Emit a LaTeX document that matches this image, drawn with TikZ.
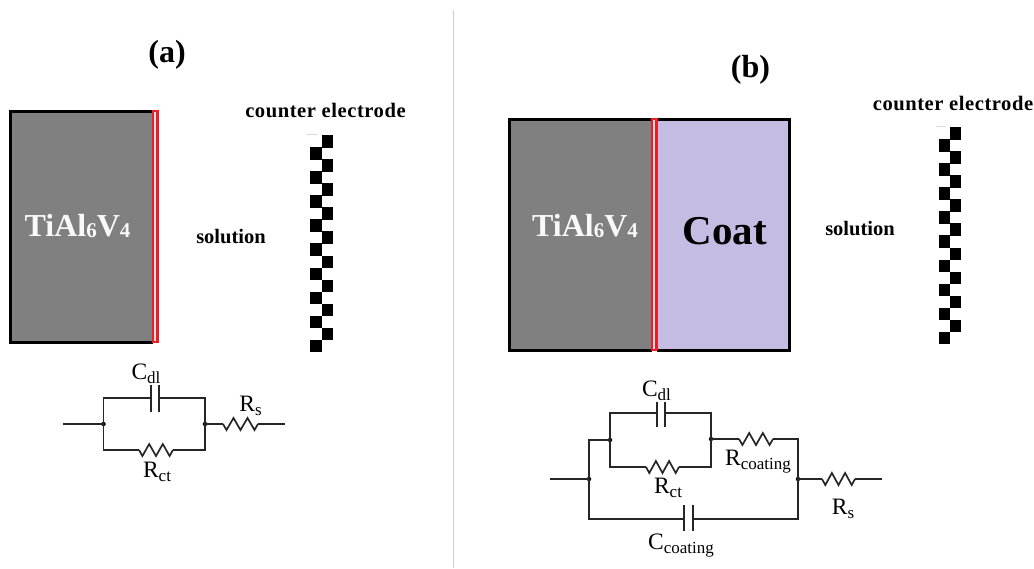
\documentclass[tikz,border=0pt]{standalone}
\usepackage{fontspec}
\setmainfont{Liberation Serif}
\newfontfamily\spaced[LetterSpace=2.6]{Liberation Serif}
\newcommand{\lab}[2]{{\fontsize{23.5}{25}\selectfont #1\raisebox{-4pt}{\fontsize{17}{19}\selectfont #2}}}
\newcommand{\alloytext}{TiAl\raisebox{-1pt}{\fontsize{21}{23}\selectfont 6}V\raisebox{-1pt}{\fontsize{21}{23}\selectfont 4}}
\definecolor{metal}{HTML}{808080}
\definecolor{coatc}{HTML}{C5BCE4}
\definecolor{redc}{HTML}{EE1C25}
\tikzset{
 wire/.style={line width=1.7pt,black!85,line join=miter},
 plate/.style={line width=1.9pt,black!85},
 dotn/.style={circle,fill=black,inner sep=0pt,minimum size=4.5pt},
 title/.style={font=\bfseries\fontsize{32}{34}\selectfont,inner sep=0pt},
 side/.style={font=\bfseries\fontsize{20.5}{22}\selectfont,inner sep=0pt},
 sidesp/.style={font=\spaced\bfseries\fontsize{20.6}{22}\selectfont,inner sep=0pt},
 alloy/.style={font=\bfseries\fontsize{32}{34}\selectfont,text=white!95!gray,inner sep=0pt},
 comp/.style={inner sep=0pt},
 block/.style={line width=3pt,draw=black},
 strip/.style={draw=redc,line width=2.6pt,fill=black!12},
 sq/.style={fill=black,draw=none},
}
\newcommand{\zig}[2]{% resistor zigzag from coordinate #1 to #2
 \draw[wire] (#1) -- ($(#1)!.1!(#2)+(0,6)$) -- ($(#1)!.3!(#2)+(0,-6)$) -- ($(#1)!.5!(#2)+(0,6)$) -- ($(#1)!.7!(#2)+(0,-6)$) -- ($(#1)!.9!(#2)+(0,6)$) -- (#2);}
\newcommand{\checker}[2]{% x of boundary, top y
 \foreach \i in {0,...,8}{
  \fill[sq] (#1,{#2+24.1*\i}) rectangle ++(11,12.6);
  \fill[sq] (#1-11.5,{#2+12.05+24.1*\i}) rectangle ++(11.5,12.6);
 }}
\usetikzlibrary{calc}
\begin{document}
\begin{tikzpicture}[x=1pt,y=-1pt]
\useasboundingbox (0,0) rectangle (1034,568);
% divider
\coordinate (divt) at (453.5,10); \coordinate (divb) at (453.5,568);
\draw[black!20,line width=.8pt] (divt) -- (divb);
\node[title] (ta) at (167,55) {(a)};
\node[title] (tb) at (750.5,70) {(b)};
% panel a
\fill[metal] (10,111) rectangle (153,342);
\draw[block] (153,111) -- (10,111) -- (10,342) -- (153,342);
\draw[strip] (153,111) rectangle (157.5,342);
\node[alloy] (alla) at (77.5,226) {\alloytext};
\node[side] (sola) at (231,237) {solution};
\node[sidesp] (cea) at (325.5,110.5) {counter electrode};
\checker{321.5}{135}
\draw[black!15,line width=.5pt] (307,134.5) -- (317,134.5);
% panel b
\fill[metal] (509,119) rectangle (652,350);
\fill[coatc] (657,119) rectangle (790,350);
\draw[block] (652,119) -- (509,119) -- (509,350) -- (652,350);
\draw[block] (657,119) -- (789.5,119) -- (789.5,350) -- (657,350);
\draw[strip] (652,119) rectangle (656.5,350);
\node[alloy] (allb) at (585,226) {\alloytext};
\node[font=\bfseries\fontsize{41}{44}\selectfont,inner sep=0pt] (coat) at (725,231) {Coat};
\node[side] (solb) at (860,229) {solution};
\node[sidesp] (ceb) at (953,103) {counter electrode};
\checker{950}{127}
\draw[black!15,line width=.5pt] (936,126.5) -- (946,126.5);
% circuit a
\coordinate (ain) at (63,424); \node[dotn] (al) at (103.5,424) {}; \node[dotn] (ar) at (205,424) {};
\coordinate (atl) at (103.5,398); \coordinate (atr) at (205,398);
\coordinate (abl) at (103.5,450); \coordinate (abr) at (205,450);
\coordinate (ac1) at (151,398); \coordinate (ac2) at (159,398);
\coordinate (ac1t) at (151,385); \coordinate (ac1b) at (151,412);
\coordinate (ac2t) at (159,385); \coordinate (ac2b) at (159,412);
\coordinate (ar1) at (139,450); \coordinate (ar2) at (173,450);
\coordinate (as1) at (223,424); \coordinate (as2) at (258,424); \coordinate (aout) at (285,424);
\draw[wire] (ain) -- (al.center);
\draw[wire] (ar1) -- (abl) -- (atl) -- (ac1);
\draw[wire] (ac2) -- (atr) -- (abr) -- (ar2);
\draw[wire] (ar.center) -- (as1); \draw[wire] (as2) -- (aout);
\draw[plate] (ac1t) -- (ac1b); \draw[plate] (ac2t) -- (ac2b);
\zig{ar1}{ar2}\zig{as1}{as2}
\node[comp] (lcdla) at (146,374) {\lab{C}{dl}};
\node[comp] (lrcta) at (157,472) {\lab{R}{ct}};
\node[comp] (lrsa) at (250.5,406) {\lab{R}{s}};
% circuit b
\coordinate (bin) at (550,479); \node[dotn] (bl) at (589,479) {}; \node[dotn] (br) at (798,479) {};
\coordinate (bol) at (589,440); \coordinate (bor) at (798,439);
\coordinate (bbl) at (589,519); \coordinate (bbr) at (798,519);
\node[dotn] (il) at (610,440) {}; \node[dotn] (ir) at (711,439) {};
\coordinate (itl) at (610,413); \coordinate (itr) at (711,413);
\coordinate (ibl) at (610,467); \coordinate (ibr) at (711,467);
\coordinate (bc1) at (657,413); \coordinate (bc2) at (665,413);
\coordinate (bc1t) at (657,402); \coordinate (bc1b) at (657,427);
\coordinate (bc2t) at (665,402); \coordinate (bc2b) at (665,427);
\coordinate (br1) at (646,467); \coordinate (br2) at (679,467);
\coordinate (bk1) at (739,439); \coordinate (bk2) at (773,439);
\coordinate (bd1) at (684,519); \coordinate (bd2) at (693,519);
\coordinate (bd1t) at (684,505); \coordinate (bd1b) at (684,531);
\coordinate (bd2t) at (693,505); \coordinate (bd2b) at (693,531);
\coordinate (bs1) at (822,479); \coordinate (bs2) at (855,479); \coordinate (bout) at (882,479);
\draw[wire] (bin) -- (bl.center);
\draw[wire] (il.center) -- (bol) -- (bbl) -- (bd1);
\draw[wire] (bd2) -- (bbr) -- (bor) -- (bk2);
\draw[wire] (bk1) -- (ir.center);
\draw[wire] (br1) -- (ibl) -- (itl) -- (bc1);
\draw[wire] (bc2) -- (itr) -- (ibr) -- (br2);
\draw[wire] (br.center) -- (bs1); \draw[wire] (bs2) -- (bout);
\foreach \n in {bc1,bc2,bd1,bd2}{\draw[plate] (\n t) -- (\n b);}
\zig{br1}{br2}\zig{bk1}{bk2}\zig{bs1}{bs2}
\node[comp] (lcdlb) at (656.5,391) {\lab{C}{dl}};
\node[comp] (lrctb) at (668,488) {\lab{R}{ct}};
\node[comp] (lrc) at (758,462) {\lab{R}{coating}};
\node[comp] (lrsb) at (843,509) {\lab{R}{s}};
\node[comp] (lcc) at (681,546) {\lab{C}{coating}};
\end{tikzpicture}
\end{document}
